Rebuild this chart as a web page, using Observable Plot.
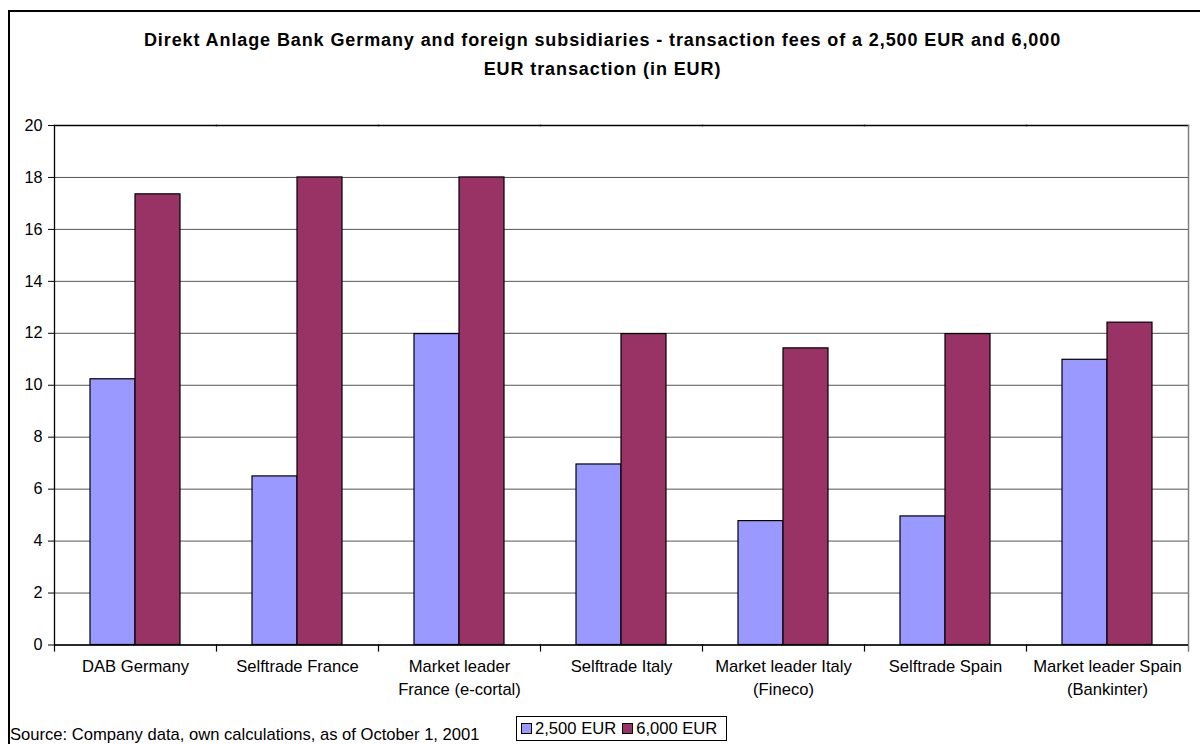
<!DOCTYPE html>
<html>
<head>
<meta charset="utf-8">
<script src="https://cdn.jsdelivr.net/npm/d3@7"></script>
<script src="https://cdn.jsdelivr.net/npm/@observablehq/plot@0.6"></script>
<style>
  html, body { margin: 0; padding: 0; background: #fff; }
  #wrap { position: relative; width: 1200px; height: 744px; overflow: hidden; font-family: Arial, "Liberation Sans", sans-serif; color: #000; }
  #frame { position: absolute; left: 8px; top: 10px; width: 1300px; height: 900px; border-left: 2px solid #000; border-top: 2px solid #000; }
  #title { position: absolute; left: 0; top: 26px; width: 1205px; text-align: center; font-weight: bold; font-size: 18px; letter-spacing: 0.9px; line-height: 29px; }
  #chart { position: absolute; left: 0; top: 0; }
  #source { position: absolute; left: 10px; top: 725px; font-size: 16.6px; line-height: 20px; white-space: nowrap; }
  #legend { position: absolute; left: 516px; top: 716px; width: 209px; height: 23px; border: 1px solid #000; font-size: 16.6px; line-height: 23px; white-space: nowrap; background: #fff; }
  #legend span.item { display: inline-block; margin-left: 4px; }
  #legend span.item + span.item { margin-left: 6px; }
  #legend span.sw { display: inline-block; width: 9px; height: 9px; border: 1px solid #000; margin-right: 3px; vertical-align: 0px; }
</style>
</head>
<body>
<div id="wrap">
  <div id="frame"></div>
  <div id="title">Direkt Anlage Bank Germany and foreign subsidiaries - transaction fees of a 2,500 EUR and 6,000<br>EUR transaction (in EUR)</div>
  <div id="chart"></div>
  <div id="source">Source: Company data, own calculations, as of October 1, 2001</div>
  <div id="legend"></div>
</div>
<script>
const categories = ["DAB Germany", "Selftrade France", "Market leader France (e-cortal)", "Selftrade Italy", "Market leader Italy (Fineco)", "Selftrade Spain", "Market leader Spain (Bankinter)"];
const categoryLabels = ["DAB Germany", "Selftrade France", "Market leader\nFrance (e-cortal)", "Selftrade Italy", "Market leader Italy\n(Fineco)", "Selftrade Spain", "Market leader Spain\n(Bankinter)"];
const series = ["2,500 EUR", "6,000 EUR"];
const colors = ["#9999FF", "#993366"];
const fees2500 = [10.23, 6.49, 11.97, 6.95, 4.77, 4.95, 10.98];
const fees6000 = [17.35, 18.0, 18.0, 11.97, 11.42, 11.97, 12.41];
const yTicks = [0, 2, 4, 6, 8, 10, 12, 14, 16, 18, 20];

const rows = [];
categories.forEach((c, i) => {
  rows.push({category: c, series: series[0], value: fees2500[i]});
  rows.push({category: c, series: series[1], value: fees6000[i]});
});

const W = 1200, H = 700, mT = 125, mB = 55.5, mL = 53, mR = 11;
const plotH = H - mT - mB;

const chart = Plot.plot({
  width: W, height: H,
  marginTop: mT, marginBottom: mB, marginLeft: mL, marginRight: mR,
  style: {fontFamily: "Arial, 'Liberation Sans', sans-serif", fontSize: "16px", color: "#000", background: "transparent", overflow: "visible"},
  fx: {domain: categories, padding: 0, label: null, axis: null},
  x: {domain: series, paddingInner: 0, paddingOuter: 0.764, axis: null},
  y: {domain: [0, 20], label: null, axis: null},
  color: {domain: series, range: colors},
  marks: [
    Plot.gridY(yTicks, {stroke: "#555", strokeOpacity: 1, strokeWidth: 1}),
    Plot.frame({anchor: "top", stroke: "#000", strokeWidth: 1.3}),
    Plot.frame({anchor: "left", stroke: "#000", strokeWidth: 1.2, insetTop: plotH, insetBottom: -6}),
    Plot.frame({anchor: "left", stroke: "#000", strokeWidth: 1.3, fx: [categories[0]]}),
    Plot.frame({anchor: "right", stroke: "#808080", strokeWidth: 1.5, insetBottom: -6, fx: [categories[categories.length - 1]]}),
    Plot.barY(rows, {fx: "category", x: "series", y: "value", fill: "series", stroke: "#000", strokeWidth: 1.2}),
    Plot.ruleY([0], {stroke: "#000", strokeWidth: 1.3}),
    Plot.axisY(yTicks, {tickSize: 6, tickPadding: 6, fontSize: 16.2, stroke: "#000"}),
    Plot.axisFx({anchor: "bottom", tickSize: 0, tickPadding: 10, fontSize: 16.6, lineHeight: 1.42, label: null,
      tickFormat: d => categoryLabels[categories.indexOf(d)]})
  ]
});
document.getElementById("chart").appendChild(chart);

const legend = document.getElementById("legend");
series.forEach((s, i) => {
  const item = document.createElement("span");
  item.className = "item";
  const sw = document.createElement("span");
  sw.className = "sw";
  sw.style.background = colors[i];
  item.appendChild(sw);
  item.appendChild(document.createTextNode(s));
  legend.appendChild(item);
});
</script>
</body>
</html>
